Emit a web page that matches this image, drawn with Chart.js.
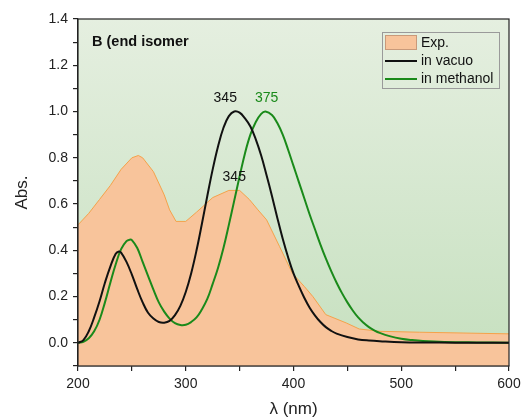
<!DOCTYPE html>
<html>
<head>
<meta charset="utf-8">
<script src="https://cdn.jsdelivr.net/npm/chart.js@4/dist/chart.umd.min.js"></script>
<style>
  html, body { margin: 0; padding: 0; background: #fff; }
  #wrap { width: 523px; height: 420px; }
</style>
</head>
<body>
<div id="wrap"><canvas id="myChart" width="523" height="420"></canvas></div>
<script>
// experimental spectrum (filled)
const expWl  = [200, 210, 220, 230, 240, 250, 256, 260, 270, 280, 285, 291, 300, 310, 316, 325, 340, 350, 359, 367, 375, 387, 399, 410, 418, 430, 449, 461, 480, 517, 600];
const expAbs = [0.51, 0.56, 0.62, 0.68, 0.75, 0.80, 0.81, 0.80, 0.74, 0.64, 0.575, 0.525, 0.525, 0.565, 0.59, 0.628, 0.659, 0.659, 0.62, 0.575, 0.532, 0.417, 0.30, 0.244, 0.20, 0.122, 0.086, 0.06, 0.05, 0.046, 0.039];

// computed, in vacuo
const vacWl  = [200, 205, 210, 215, 220, 225, 230, 235, 238, 240, 245, 250, 255, 260, 265, 270, 275, 280, 285, 290, 295, 300, 305, 310, 315, 320, 325, 330, 335, 340, 345, 350, 355, 360, 365, 370, 375, 380, 385, 390, 395, 400, 405, 410, 415, 420, 425, 430, 435, 440, 450, 460, 470, 480, 500, 550, 600];
const vacAbs = [0.00, 0.012, 0.05, 0.11, 0.18, 0.26, 0.33, 0.385, 0.395, 0.39, 0.35, 0.295, 0.232, 0.175, 0.13, 0.105, 0.09, 0.087, 0.095, 0.12, 0.16, 0.22, 0.30, 0.40, 0.515, 0.635, 0.75, 0.85, 0.93, 0.98, 1.00, 0.995, 0.97, 0.935, 0.88, 0.81, 0.725, 0.635, 0.54, 0.45, 0.37, 0.30, 0.245, 0.195, 0.152, 0.118, 0.09, 0.068, 0.052, 0.04, 0.025, 0.015, 0.01, 0.007, 0.003, 0.001, 0];

// computed, in methanol
const methWl  = [200, 205, 210, 215, 220, 225, 230, 235, 240, 245, 248, 250, 255, 260, 265, 270, 275, 280, 285, 290, 295, 300, 305, 310, 315, 320, 325, 330, 335, 340, 345, 350, 355, 360, 365, 370, 374, 380, 385, 390, 395, 400, 405, 410, 415, 420, 425, 430, 435, 440, 445, 450, 455, 460, 465, 470, 475, 480, 490, 500, 510, 520, 540, 570, 600];
const methAbs = [0.00, 0.005, 0.02, 0.05, 0.10, 0.175, 0.26, 0.34, 0.405, 0.44, 0.446, 0.444, 0.41, 0.35, 0.29, 0.23, 0.175, 0.135, 0.105, 0.085, 0.077, 0.078, 0.09, 0.11, 0.145, 0.19, 0.255, 0.325, 0.41, 0.51, 0.615, 0.72, 0.82, 0.90, 0.955, 0.99, 1.00, 0.985, 0.95, 0.90, 0.835, 0.765, 0.695, 0.625, 0.555, 0.49, 0.425, 0.365, 0.31, 0.26, 0.215, 0.175, 0.14, 0.11, 0.087, 0.068, 0.054, 0.043, 0.028, 0.018, 0.012, 0.008, 0.004, 0.002, 0.001];

// peak labels: [wavelength, abs, text, colour, pixel shift x]
const peakLabels = [
  [345, 1.00, '345', '#111', -9],
  [375, 1.00, '375', '#1a8a1a', 0],
  [345, 0.66, '345', '#111', 0]
];

const FONT = 'Arial, "Liberation Sans", sans-serif';

const toPts = (xs, ys) => xs.map((x, i) => ({ x: x, y: ys[i] }));

// gradient background, frame, legend box and peak labels
const decor = {
  id: 'decor',
  beforeDatasetsDraw(chart) {
    const a = chart.chartArea, ctx = chart.ctx;
    const g = ctx.createLinearGradient(0, a.top, 0, a.bottom);
    g.addColorStop(0, '#e5efe0');
    g.addColorStop(1, '#c6e0bf');
    ctx.save();
    ctx.fillStyle = g;
    ctx.fillRect(a.left, a.top, a.right - a.left, a.bottom - a.top);
    ctx.restore();
  },
  afterDatasetsDraw(chart) {
    const a = chart.chartArea, ctx = chart.ctx;
    const xs = chart.scales.x, ys = chart.scales.y;
    ctx.save();
    // frame
    ctx.strokeStyle = '#222';
    ctx.lineWidth = 1.2;
    ctx.strokeRect(a.left, a.top, a.right - a.left, a.bottom - a.top);

    // panel title
    ctx.fillStyle = '#111';
    ctx.font = 'bold 14.5px ' + FONT;
    ctx.textAlign = 'left';
    ctx.textBaseline = 'middle';
    ctx.fillText('B (end isomer', a.left + 14, a.top + 23);

    // peak labels
    ctx.font = '14px ' + FONT;
    ctx.textAlign = 'center';
    ctx.textBaseline = 'middle';
    peakLabels.forEach(p => {
      ctx.fillStyle = p[3];
      ctx.fillText(p[2], xs.getPixelForValue(p[0]) + p[4], ys.getPixelForValue(p[1]) - 13);
    });

    // legend
    const bx = a.right - 127, by = a.top + 13, bw = 117, bh = 56;
    ctx.strokeStyle = '#9a9a9a';
    ctx.lineWidth = 1;
    ctx.strokeRect(bx + 0.5, by + 0.5, bw, bh);
    const ds = chart.data.datasets;
    ctx.font = '14px ' + FONT;
    ctx.textAlign = 'left';
    ds.forEach((d, i) => {
      const cy = by + 10 + i * 18;
      if (d.fill) {
        ctx.fillStyle = d.backgroundColor;
        ctx.fillRect(bx + 3, cy - 7, 32, 15);
        ctx.strokeStyle = '#c99a7a';
        ctx.strokeRect(bx + 3.5, cy - 6.5, 31, 14);
      } else {
        ctx.strokeStyle = d.borderColor;
        ctx.lineWidth = 2;
        ctx.beginPath();
        ctx.moveTo(bx + 3, cy + 1);
        ctx.lineTo(bx + 35, cy + 1);
        ctx.stroke();
      }
      ctx.fillStyle = '#111';
      ctx.fillText(d.label, bx + 39, cy + 1);
    });
    ctx.restore();
  }
};

const ctx = document.getElementById('myChart').getContext('2d');
const myChart = new Chart(ctx, {
  type: 'line',
  data: {
    datasets: [
      {
        label: 'Exp.',
        data: toPts(expWl, expAbs),
        fill: 'start',
        backgroundColor: '#f8c49b',
        borderColor: '#f5a24a',
        borderWidth: 1,
        pointRadius: 0,
        tension: 0,
        order: 10
      },
      {
        label: 'in vacuo',
        data: toPts(vacWl, vacAbs),
        fill: false,
        borderColor: '#111111',
        borderWidth: 2,
        pointRadius: 0,
        tension: 0.4,
        order: 1
      },
      {
        label: 'in methanol',
        data: toPts(methWl, methAbs),
        fill: false,
        borderColor: '#1a8a1a',
        borderWidth: 2,
        pointRadius: 0,
        tension: 0.4,
        order: 2
      }
    ]
  },
  options: {
    responsive: false,
    animation: false,
    layout: { padding: { left: 10, right: 14, top: 19, bottom: 0 } },
    plugins: {
      legend: { display: false },
      tooltip: { enabled: false }
    },
    scales: {
      x: {
        type: 'linear',
        min: 200,
        max: 600,
        afterFit(s) { s.height = 54; s.paddingRight = 0; s.paddingLeft = 0; },
        ticks: {
          stepSize: 50,
          padding: 5,
          color: '#222',
          font: { family: FONT, size: 14 },
          maxRotation: 0,
          callback: v => (v % 100 === 0 ? String(v) : '')
        },
        grid: { drawOnChartArea: false, tickLength: 5, color: '#222', lineWidth: 1.2 },
        border: { color: '#222', width: 1.2 },
        title: {
          display: true,
          text: 'λ (nm)',
          color: '#222',
          font: { family: FONT, size: 17 },
          padding: { top: 4, bottom: 0 }
        }
      },
      y: {
        min: -0.1,
        max: 1.4,
        afterFit(s) { s.width = 68; },
        ticks: {
          stepSize: 0.1,
          padding: 5,
          color: '#222',
          font: { family: FONT, size: 14 },
          callback: v => {
            const k = Math.round(v * 10);
            return (k >= 0 && k % 2 === 0) ? (k / 10).toFixed(1) : '';
          }
        },
        grid: { drawOnChartArea: false, tickLength: 5, color: '#222', lineWidth: 1.2 },
        border: { color: '#222', width: 1.2 },
        title: {
          display: true,
          text: 'Abs.',
          color: '#222',
          font: { family: FONT, size: 17 },
          padding: { top: 2, bottom: 0 }
        }
      }
    }
  },
  plugins: [decor]
});
</script>
</body>
</html>
